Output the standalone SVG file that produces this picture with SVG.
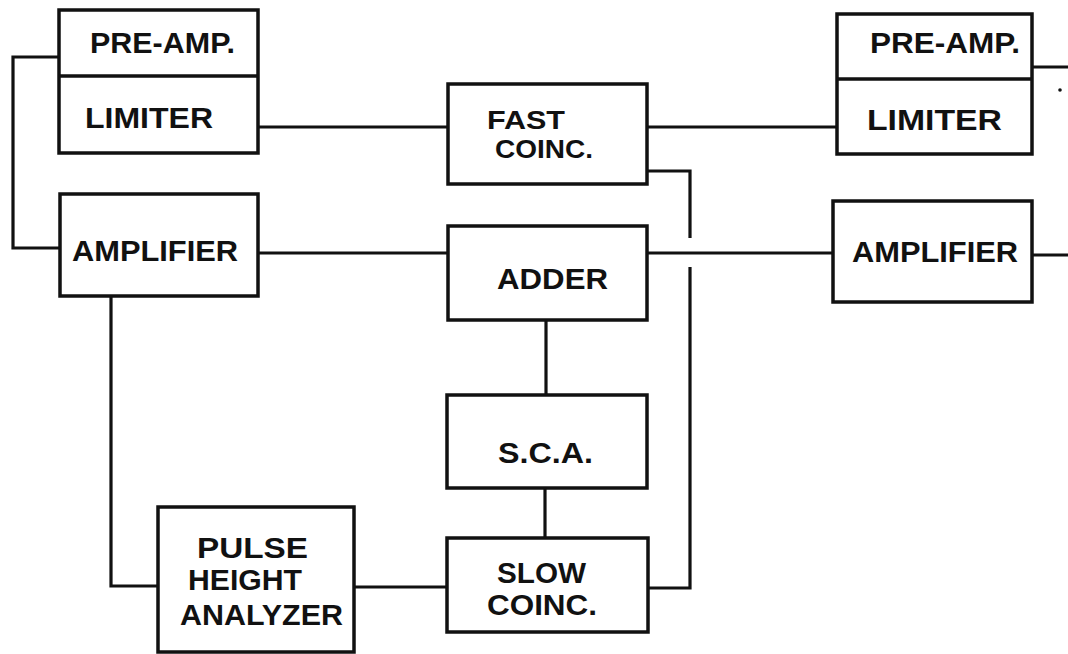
<svg xmlns="http://www.w3.org/2000/svg" width="1068" height="654" viewBox="0 0 1068 654">
<style>
.box{fill:none;stroke:#111;stroke-width:3.5}
.ln{fill:none;stroke:#111;stroke-width:3.2}
.t{font-family:"Liberation Sans",Arial,sans-serif;font-weight:bold;font-size:29px;fill:#111}
.s{font-size:25px}
</style>
<rect width="1068" height="654" fill="#fff"/>
<g id="connectors">
<polyline class="ln" points="59,57 13,57 13,248 59,248"/>
<line class="ln" x1="258" y1="127" x2="448" y2="127"/>
<line class="ln" x1="647" y1="127" x2="837" y2="127"/>
<line class="ln" x1="1032" y1="67" x2="1068" y2="67"/>
<line class="ln" x1="258" y1="253" x2="448" y2="253"/>
<line class="ln" x1="647" y1="253" x2="833" y2="253"/>
<line class="ln" x1="1032" y1="255" x2="1068" y2="255"/>
<polyline class="ln" points="647,171 690,171 690,238"/>
<polyline class="ln" points="690,267 690,588 648,588"/>
<line class="ln" x1="546" y1="320" x2="546" y2="395"/>
<line class="ln" x1="545" y1="488" x2="545" y2="538"/>
<polyline class="ln" points="111,296 111,586 158,586"/>
<line class="ln" x1="354" y1="587" x2="447" y2="587"/>
<circle cx="1060" cy="90" r="1.8" fill="#111"/>
</g>
<g id="preamp-limiter-left">
<rect class="box" x="59" y="10" width="199" height="143"/>
<line class="box" x1="59" y1="76" x2="258" y2="76"/>
<text class="t" x="90" y="53" textLength="145" lengthAdjust="spacingAndGlyphs">PRE-AMP.</text>
<text class="t" x="85" y="128" textLength="128" lengthAdjust="spacingAndGlyphs">LIMITER</text>
</g>
<g id="amplifier-left">
<rect class="box" x="60" y="194" width="198" height="102"/>
<text class="t" x="72" y="261" textLength="166" lengthAdjust="spacingAndGlyphs">AMPLIFIER</text>
</g>
<g id="fast-coinc">
<rect class="box" x="448" y="84" width="199" height="100"/>
<text class="t s" x="487" y="129" textLength="78" lengthAdjust="spacingAndGlyphs">FAST</text>
<text class="t s" x="495" y="158" textLength="98" lengthAdjust="spacingAndGlyphs">COINC.</text>
</g>
<g id="adder">
<rect class="box" x="448" y="226" width="199" height="94"/>
<text class="t" x="497" y="289" textLength="111" lengthAdjust="spacingAndGlyphs">ADDER</text>
</g>
<g id="preamp-limiter-right">
<rect class="box" x="837" y="14" width="195" height="140"/>
<line class="box" x1="837" y1="79" x2="1032" y2="79"/>
<text class="t" x="870" y="53" textLength="150" lengthAdjust="spacingAndGlyphs">PRE-AMP.</text>
<text class="t" x="867" y="130" textLength="135" lengthAdjust="spacingAndGlyphs">LIMITER</text>
</g>
<g id="amplifier-right">
<rect class="box" x="833" y="201" width="199" height="101"/>
<text class="t" x="852" y="262" textLength="166" lengthAdjust="spacingAndGlyphs">AMPLIFIER</text>
</g>
<g id="sca">
<rect class="box" x="447" y="395" width="200" height="93"/>
<text class="t" x="498" y="463" textLength="95" lengthAdjust="spacingAndGlyphs">S.C.A.</text>
</g>
<g id="slow-coinc">
<rect class="box" x="447" y="538" width="201" height="94"/>
<text class="t" x="497" y="583" textLength="89" lengthAdjust="spacingAndGlyphs">SLOW</text>
<text class="t" x="487" y="615" textLength="110" lengthAdjust="spacingAndGlyphs">COINC.</text>
</g>
<g id="pulse-height-analyzer">
<rect class="box" x="158" y="507" width="196" height="145"/>
<text class="t" x="197" y="558" textLength="111" lengthAdjust="spacingAndGlyphs">PULSE</text>
<text class="t" x="188" y="590" textLength="114" lengthAdjust="spacingAndGlyphs">HEIGHT</text>
<text class="t" x="180" y="625" textLength="163" lengthAdjust="spacingAndGlyphs">ANALYZER</text>
</g>
</svg>
